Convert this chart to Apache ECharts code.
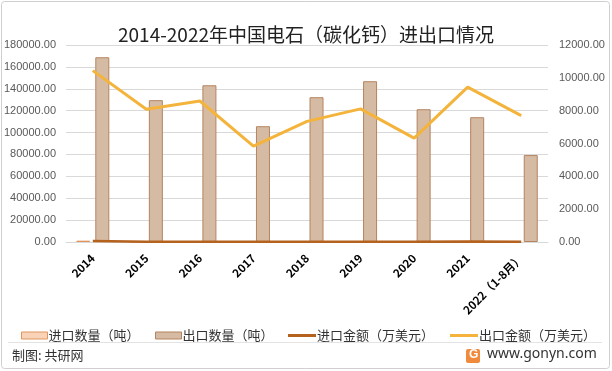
<!DOCTYPE html>
<html>
<head>
<meta charset="utf-8">
<script src="https://cdn.jsdelivr.net/npm/echarts@6/dist/echarts.min.js"></script>
<style>html,body{margin:0;padding:0;background:#fff;}#c{width:612px;height:371px;}</style>
</head>
<body>
<div id="c"></div>
<script>
var categories = ['2014','2015','2016','2017','2018','2019','2020','2021','2022（1-8月）'];
var importQty = [1200, 150, 100, 80, 120, 100, 150, 300, 100];
var exportQty = [168800, 129600, 143200, 105800, 132300, 146900, 121300, 114000, 79400];
var importAmt = [60, 20, 15, 12, 15, 12, 20, 30, 15];
var exportAmt = [10440, 8090, 8590, 5840, 7350, 8110, 6330, 9430, 7700];
var leftTicks = {min: 0, max: 180000, interval: 20000};
var rightTicks = {min: 0, max: 12000, interval: 2000};

var chart = echarts.init(document.getElementById('c'), null, {renderer: 'canvas'});
var numFont = 'Liberation Sans, Arial, sans-serif';
var cjk = 'Noto Sans CJK SC, sans-serif';
function leg(name, left, w, h, border) {
  return {
    left: left, top: 324, itemWidth: w, itemHeight: h, icon: 'rect', itemGap: 0,
    textStyle: {fontFamily: cjk, fontSize: 13, color: '#333', padding: [0, 0, 0, -4]},
    itemStyle: border ? {borderWidth: 1} : {},
    data: [name]
  };
}
chart.setOption({
  animation: false,
  backgroundColor: '#fff',
  title: {
    text: '2014-2022年中国电石（碳化钙）进出口情况',
    left: 'center', top: 20,
    textStyle: {fontFamily: cjk, fontSize: 19, fontWeight: 'normal', color: '#222'}
  },
  grid: {left: 66, right: 64, top: 45, bottom: 129, containLabel: false},
  legend: [
    leg('进口数量（吨）', 16, 26, 7, true),
    leg('出口数量（吨）', 150, 26, 7, true),
    leg('进口金额（万美元）', 283, 28, 3, false),
    leg('出口金额（万美元）', 445, 28, 3, false)
  ],
  xAxis: {
    type: 'category', data: categories,
    axisLine: {lineStyle: {color: '#d9d9d9'}},
    axisTick: {show: false},
    axisLabel: {rotate: 45, interval: 0, margin: 14, color: '#000', fontWeight: 'bold', fontSize: 11.5, fontFamily: cjk}
  },
  yAxis: [
    {type: 'value', min: leftTicks.min, max: leftTicks.max, interval: leftTicks.interval,
     axisLine: {show: false}, axisTick: {show: false},
     splitLine: {lineStyle: {color: '#d9d9d9'}},
     axisLabel: {margin: 10, color: '#595959', fontSize: 11, fontFamily: numFont, formatter: function(v){return v.toFixed(2);}}},
    {type: 'value', min: rightTicks.min, max: rightTicks.max, interval: rightTicks.interval,
     axisLine: {show: false}, axisTick: {show: false}, splitLine: {show: false},
     axisLabel: {margin: 11, color: '#595959', fontSize: 11, fontFamily: numFont, formatter: function(v){return v.toFixed(2);}}}
  ],
  series: [
    {name: '进口数量（吨）', type: 'bar', data: importQty, barWidth: 14, barGap: '36%',
     itemStyle: {color: '#f8d3b8', borderColor: '#e0955e', borderWidth: 1}},
    {name: '出口数量（吨）', type: 'bar', data: exportQty, barWidth: 14,
     itemStyle: {color: '#d6bba4', borderColor: '#b5835f', borderWidth: 1}},
    {name: '进口金额（万美元）', type: 'line', yAxisIndex: 1, data: importAmt, symbol: 'none', z: 5,
     lineStyle: {color: '#b5621f', width: 2.5}, itemStyle: {color: '#b5621f'}},
    {name: '出口金额（万美元）', type: 'line', yAxisIndex: 1, data: exportAmt, symbol: 'none', z: 6,
     lineStyle: {color: '#f4b43c', width: 3}, itemStyle: {color: '#f4b43c'}}
  ],
  graphic: [
    {type: 'rect', shape: {x: 1.5, y: 1.5, width: 608, height: 367, r: 3}, style: {fill: 'none', stroke: '#cfcfcf', lineWidth: 1}, silent: true},
    {type: 'line', shape: {x1: 8, y1: 342.5, x2: 602, y2: 342.5}, style: {stroke: '#e3e3e3', lineWidth: 1}},
    {type: 'text', left: 12, top: 349, style: {text: '制图: 共研网', fontFamily: cjk, fontSize: 13, fill: '#333'}},
    {type: 'rect', shape: {x: 466, y: 349, width: 14, height: 14, r: 2}, style: {fill: '#f08a3c'}},
    {type: 'text', left: 469, top: 349, style: {text: 'G', fontFamily: numFont, fontSize: 12, fontWeight: 'bold', fill: '#fff'}},
    {type: 'text', left: 487, top: 347, style: {text: 'www.gonyn.com', fontFamily: 'Noto Sans, sans-serif', fontSize: 14, fill: '#333'}}
  ]
});
</script>
</body>
</html>
